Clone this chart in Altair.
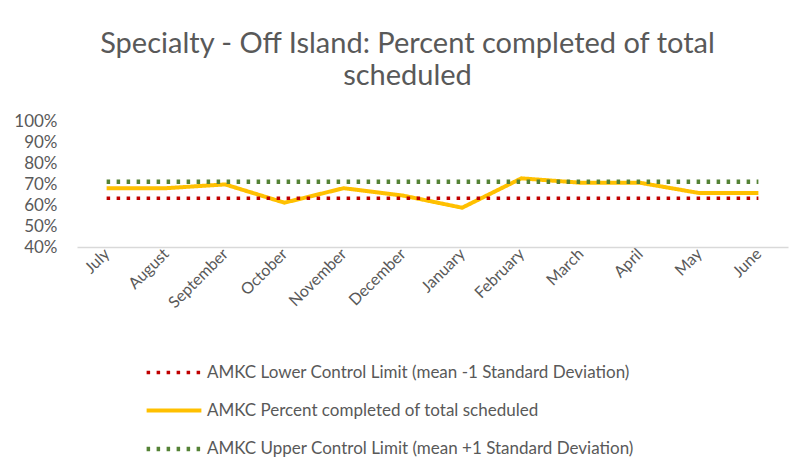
import altair as alt
import pandas as pd

months = ["July", "August", "September", "October", "November", "December",
          "January", "February", "March", "April", "May", "June"]
pct_completed = [0.68, 0.68, 0.698, 0.611, 0.68, 0.645, 0.587, 0.727, 0.706, 0.706, 0.657, 0.657]
lower_limit = [0.632] * 12
upper_limit = [0.711] * 12

s_low = "AMKC Lower Control Limit (mean -1 Standard Deviation)"
s_pct = "AMKC Percent completed of total scheduled"
s_up = "AMKC Upper Control Limit (mean +1 Standard Deviation)"
series_order = [s_low, s_pct, s_up]

rows = []
for name, vals in [(s_pct, pct_completed), (s_low, lower_limit), (s_up, upper_limit)]:
    for m, v in zip(months, vals):
        rows.append({"Month": m, "Value": v, "Series": name})
df = pd.DataFrame(rows)

FONT = "Lato"
GRAY = "#595959"

chart = alt.Chart(df).mark_line(strokeJoin="round").encode(
    x=alt.X("Month:N", sort=months, title=None,
            scale=alt.Scale(paddingInner=0, paddingOuter=0),
            axis=alt.Axis(labelAngle=-45, labelFontSize=16, labelColor=GRAY, labelFont=FONT,
                          labelAlign="right", labelBaseline="middle",
                          ticks=False, domainColor="#d9d9d9", domainWidth=1.5, labelPadding=4)),
    y=alt.Y("Value:Q", title=None,
            scale=alt.Scale(domain=[0.4, 1.0], nice=False, zero=False),
            axis=alt.Axis(format=".0%", values=[0.4, 0.5, 0.6, 0.7, 0.8, 0.9, 1.0],
                          grid=False, domain=False, ticks=False, labelFontSize=17,
                          labelColor=GRAY, labelFont=FONT, labelPadding=20)),
    color=alt.Color("Series:N",
                    scale=alt.Scale(domain=series_order, range=["#c00000", "#ffc000", "#548235"]),
                    legend=alt.Legend(title=None, orient="none", legendX=67, legendY=222,
                                      direction="vertical", symbolType="stroke",
                                      symbolSize=3000, symbolStrokeWidth=3.5,
                                      labelFontSize=17, labelColor=GRAY, labelFont=FONT,
                                      rowPadding=-7.5, labelOffset=3, padding=0,
                                      labelLimit=700)),
    strokeDash=alt.StrokeDash("Series:N",
                              scale=alt.Scale(domain=series_order,
                                              range=[[3.5, 6.5], [1, 0], [3.5, 6.5]]),
                              legend=None),
    strokeWidth=alt.StrokeWidth("Series:N",
                                scale=alt.Scale(domain=series_order, range=[3.5, 4.5, 3.5]),
                                legend=None),
).properties(
    width=711,
    height=126,
    title=alt.TitleParams(
        text=["Specialty - Off Island: Percent completed of total", "scheduled"],
        fontSize=29, font=FONT, color=GRAY, fontWeight="normal",
        anchor="middle", dx=-25, offset=21, lineHeight=32,
    ),
    autosize=alt.AutoSizeParams(type="none"),
    padding={"left": 69, "top": 113, "right": 16, "bottom": 226},
).configure_view(stroke=None)

chart.save("out.html", embed_options={"renderer": "svg", "actions": False})
